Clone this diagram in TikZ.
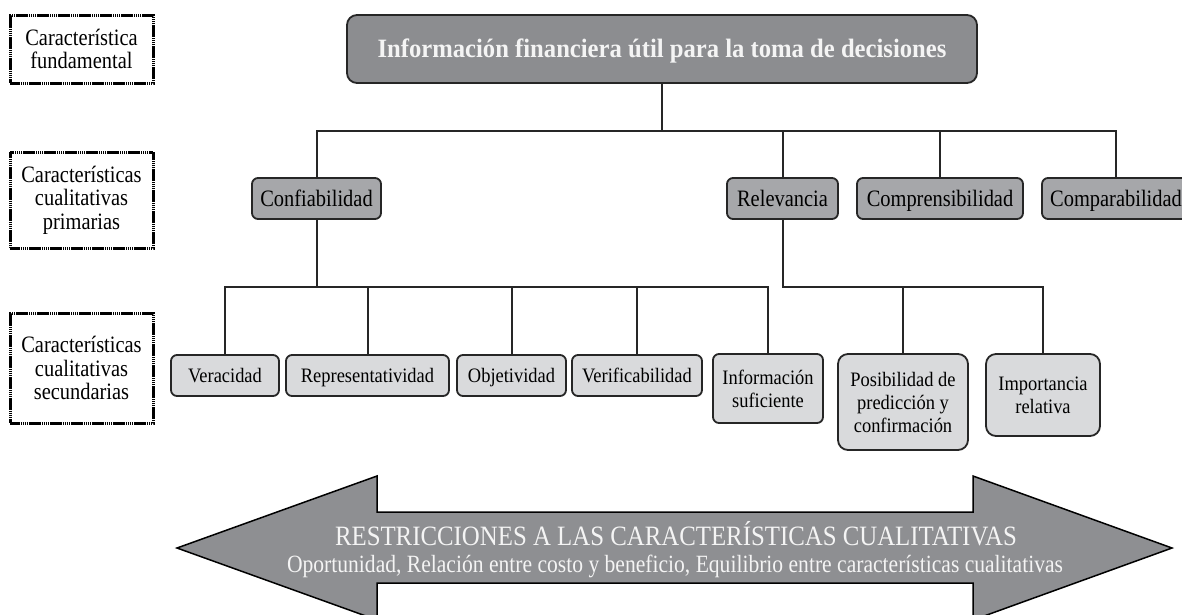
\documentclass[tikz,border=0pt]{standalone}
\usepackage{fontspec}
\setmainfont{Liberation Serif}
\newfontfamily\fprim{Liberation Serif}[FakeStretch=0.87]
\newfontfamily\fsec{Liberation Serif}[FakeStretch=0.90]
\newfontfamily\ftitle{Liberation Serif}[FakeStretch=0.93]
\newfontfamily\farrA{Liberation Serif}[FakeStretch=0.887]
\newfontfamily\farrB{Liberation Serif}[FakeStretch=0.87]
\definecolor{topgray}{HTML}{8C8D90}
\definecolor{primgray}{HTML}{A6A7AA}
\definecolor{secgray}{HTML}{D9DADC}
\definecolor{arrgray}{HTML}{8E8F92}
\definecolor{ln}{HTML}{262626}
\definecolor{txtw}{HTML}{F4F4F4}
\begin{document}
\begin{tikzpicture}[x=1pt,y=-1pt,
  every node/.style={inner sep=0pt, outer sep=0pt},
  labelbox/.style={draw=black, line width=3pt, dash pattern=on 1.6pt off 0.5pt,
    minimum width=143, align=center, font=\fprim\fontsize{23.5}{23.5}\selectfont},
  topbox/.style={draw=ln, line width=1.8pt, rounded corners=10pt, fill=topgray,
    minimum width=630, minimum height=68, text=txtw, text height=18pt, text depth=1pt,
    font=\ftitle\bfseries\fontsize{26.5}{28}\selectfont},
  primbox/.style={draw=ln, line width=1.8pt, rounded corners=6pt, fill=primgray,
    minimum height=41, text height=17pt, text depth=1pt,
    font=\fprim\fontsize{23.5}{23.5}\selectfont},
  secbox/.style={draw=ln, line width=1.8pt, rounded corners=6pt, fill=secgray,
    align=center, font=\fsec\fontsize{20.5}{23}\selectfont},
  secone/.style={secbox, minimum height=41, text height=15pt, text depth=1pt},
  conn/.style={draw=ln, line width=2pt},
  arrtext/.style={text=txtw, anchor=base}
]
\useasboundingbox (0,0) rectangle (1182,614);

% row labels
\node[labelbox, minimum height=68] (lab1) at (81.5,49) {Característica\\fundamental};
\node[labelbox, minimum height=96] (lab2) at (81.5,200) {Características\\cualitativas\\primarias};
\node[labelbox, minimum height=110] (lab3) at (81.5,368) {Características\\cualitativas\\secundarias};

% top
\node[topbox] (top) at (662,49) {Información financiera útil para la toma de decisiones};

% primary
\node[primbox, minimum width=129] (conf) at (316.5,198.5) {Confiabilidad};
\node[primbox, minimum width=111] (relev) at (782.5,198.5) {Relevancia};
\node[primbox, minimum width=166] (compr) at (940,198.5) {Comprensibilidad};
\node[primbox, minimum width=148] (compar) at (1116,198.5) {Comparabilidad};

% secondary
\node[secone, minimum width=108] (verac) at (225,375.5) {Veracidad};
\node[secone, minimum width=163] (repr) at (367.5,375.5) {Representatividad};
\node[secone, minimum width=109] (obj) at (511.5,375.5) {Objetividad};
\node[secone, minimum width=130] (verif) at (637,375.5) {Verificabilidad};
\node[secbox, minimum width=110, minimum height=69] (infsuf) at (768,388.5) {Información\\suficiente};
\node[secbox, minimum width=130, minimum height=96, rounded corners=10pt] (posib) at (903,402) {Posibilidad de\\predicción y\\confirmación};
\node[secbox, minimum width=114, minimum height=82, rounded corners=10pt] (import) at (1043,395) {Importancia\\relativa};

% connectors level 1
\coordinate (j1) at (top.south |- 0,131);
\draw[conn] (top.south) -- (j1);
\draw[conn] (conf.north) |- (j1) -| (compar.north);
\draw[conn] (relev.north) -- (relev.north |- j1);
\draw[conn] (compr.north) -- (compr.north |- j1);

% connectors level 2 (Confiabilidad)
\coordinate (j2) at (conf.south |- 0,287);
\draw[conn] (conf.south) -- (j2);
\draw[conn] (verac.north) |- (j2) -| (infsuf.north);
\draw[conn] (repr.north) -- (repr.north |- j2);
\draw[conn] (obj.north) -- (obj.north |- j2);
\draw[conn] (verif.north) -- (verif.north |- j2);

% connectors level 2 (Relevancia)
\coordinate (j3) at (relev.south |- 0,287);
\draw[conn] (relev.south) -- (j3) -| (import.north);
\draw[conn] (posib.north) -- (posib.north |- j3);

% double arrow
\path[fill=arrgray, draw=black, line width=1.5pt, line join=miter]
  (177,548) -- (377,476) -- (377,512) -- (973,512) -- (973,476) -- (1172,548)
  -- (973,620) -- (973,583) -- (377,583) -- (377,620) -- cycle;
\node[arrtext, font=\farrA\fontsize{28}{29}\selectfont] (r1) at (676,545) {RESTRICCIONES A LAS CARACTERÍSTICAS CUALITATIVAS};
\node[arrtext, font=\farrB\fontsize{24.8}{26}\selectfont] (r2) at (675,572) {Oportunidad, Relación entre costo y beneficio, Equilibrio entre características cualitativas};
\end{tikzpicture}
\end{document}
